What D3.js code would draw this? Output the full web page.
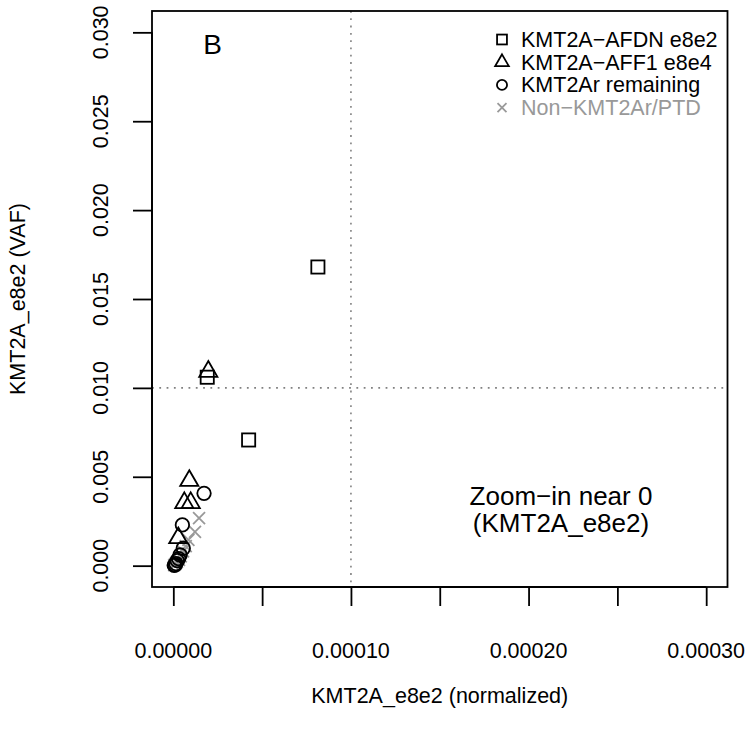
<!DOCTYPE html>
<html>
<head>
<meta charset="utf-8">
<script src="https://cdn.jsdelivr.net/npm/d3@7"></script>
<style>
  body { margin: 0; background: #fff; }
  text { font-family: "Liberation Sans", Arial, sans-serif; }
</style>
</head>
<body>
<script>
// points: [normalized, VAF]
var afdn = [ [0.0000814, 0.0168], [0.0000191, 0.0106], [0.0000424, 0.00707] ];
var aff1 = [ [0.0000197, 0.01092], [0.0000090, 0.00478], [0.0000062, 0.00353],
             [0.0000098, 0.00353], [0.0000028, 0.00156] ];
var remaining = [ [0.0000173, 0.00407], [0.0000051, 0.00229], [0.0000056, 0.00098],
                  [0.0000038, 0.00060], [0.0000030, 0.00040], [0.0000022, 0.00028],
                  [0.0000015, 0.00012], [0.0000010, 0.00005], [0.0000005, 0.00002] ];
var nonkmt = [ [0.0000145, 0.00267], [0.0000122, 0.00190], [0.0000085, 0.00145],
               [0.0000070, 0.00110], [0.0000055, 0.00080], [0.0000042, 0.00052],
               [0.0000032, 0.00032], [0.0000020, 0.00020], [0.0000012, 0.00010],
               [0.0000005, 0.00003] ];

var xTicks = [0, 0.00005, 0.0001, 0.00015, 0.0002, 0.00025, 0.0003];
var xLabels = [0, 0.0001, 0.0002, 0.0003];
var yTicks = [0, 0.005, 0.01, 0.015, 0.02, 0.025, 0.03];
var legendLabels = ["KMT2A\u2212AFDN e8e2", "KMT2A\u2212AFF1 e8e4", "KMT2Ar remaining", "Non\u2212KMT2Ar/PTD"];
var legendShapes = ["square", "triangle", "circle", "cross"];
var legendColours = ["#000", "#000", "#000", "#999"];

var W = 747, H = 738;
var box = { l: 152, r: 727.5, t: 11, b: 587 };
var GRAY = "#999999";
var LW = 1.8;

var svg = d3.select("body").append("svg")
    .attr("width", W)
    .attr("height", H);

// R style: 4% padding on both ends
var xs = d3.scaleLinear().domain([-0.000012, 0.000312]).range([box.l, box.r]);
var ys = d3.scaleLinear().domain([-0.0012, 0.0312]).range([box.b, box.t]);

// reference lines
svg.append("line")
    .attr("x1", xs(0.0001)).attr("x2", xs(0.0001))
    .attr("y1", box.t).attr("y2", box.b)
    .attr("stroke", "#808080").attr("stroke-width", 1.6)
    .attr("stroke-dasharray", "1.8,5.5");
svg.append("line")
    .attr("x1", box.l).attr("x2", box.r)
    .attr("y1", ys(0.01)).attr("y2", ys(0.01))
    .attr("stroke", "#808080").attr("stroke-width", 1.6)
    .attr("stroke-dasharray", "1.8,5.5");

// symbol drawing, R pch sizes
var S = 18;
function drawShape(g, shape, x, y, colour) {
    if (shape == "square") {
        var h = 0.375 * 0.886 * S * 1.1;
        g.append("rect")
            .attr("x", x - h).attr("y", y - h)
            .attr("width", 2 * h).attr("height", 2 * h)
            .attr("fill", "none").attr("stroke", colour).attr("stroke-width", LW);
    } else if (shape == "triangle") {
        var r = 1.555 * 0.375 * S;
        var xc = r * Math.sqrt(3) / 2;
        g.append("path")
            .attr("d", "M" + x + "," + (y - r) + "L" + (x + xc) + "," + (y + r / 2) +
                       "L" + (x - xc) + "," + (y + r / 2) + "Z")
            .attr("fill", "none").attr("stroke", colour).attr("stroke-width", LW);
    } else if (shape == "circle") {
        g.append("circle")
            .attr("cx", x).attr("cy", y).attr("r", 0.375 * S)
            .attr("fill", "none").attr("stroke", colour).attr("stroke-width", LW);
    } else {
        var c = 0.375 * 0.886 * S;
        g.append("path")
            .attr("d", "M" + (x - c) + "," + (y - c) + "L" + (x + c) + "," + (y + c) +
                       "M" + (x - c) + "," + (y + c) + "L" + (x + c) + "," + (y - c))
            .attr("fill", "none").attr("stroke", colour).attr("stroke-width", LW);
    }
}

var pts = svg.append("g");
nonkmt.forEach(function (d) { drawShape(pts, "cross", xs(d[0]), ys(d[1]), GRAY); });
afdn.forEach(function (d) { drawShape(pts, "square", xs(d[0]), ys(d[1]), "#000"); });
aff1.forEach(function (d) { drawShape(pts, "triangle", xs(d[0]), ys(d[1]), "#000"); });
remaining.forEach(function (d) { drawShape(pts, "circle", xs(d[0]), ys(d[1]), "#000"); });

// box
svg.append("rect")
    .attr("x", box.l).attr("y", box.t)
    .attr("width", box.r - box.l).attr("height", box.b - box.t)
    .attr("fill", "none").attr("stroke", "#000").attr("stroke-width", LW);

// x axis
var xAxis = svg.append("g")
    .attr("transform", "translate(0," + box.b + ")")
    .call(d3.axisBottom(xs).tickValues(xTicks).tickSize(19).tickFormat(""));
xAxis.select(".domain")
    .attr("d", "M" + xs(0) + ",0H" + xs(0.0003))
    .attr("stroke-width", LW);
xAxis.selectAll(".tick line").attr("stroke-width", LW);
svg.selectAll(".xlab").data(xLabels).enter().append("text")
    .attr("x", function (d) { return xs(d); })
    .attr("y", 658)
    .attr("text-anchor", "middle")
    .attr("font-size", 21.5)
    .text(function (d) { return d3.format(".5f")(d); });

// y axis
var yAxis = svg.append("g")
    .attr("transform", "translate(" + box.l + ",0)")
    .call(d3.axisLeft(ys).tickValues(yTicks).tickSize(19).tickFormat(""));
yAxis.select(".domain")
    .attr("d", "M0," + ys(0) + "V" + ys(0.03))
    .attr("stroke-width", LW);
yAxis.selectAll(".tick line").attr("stroke-width", LW);
svg.selectAll(".ylab").data(yTicks).enter().append("text")
    .attr("transform", function (d) { return "translate(108," + ys(d) + ") rotate(-90)"; })
    .attr("text-anchor", "middle")
    .attr("font-size", 21.5)
    .text(function (d) { return d3.format(".3f")(d); });

// axis titles
svg.append("text")
    .attr("x", (box.l + box.r) / 2).attr("y", 703)
    .attr("text-anchor", "middle").attr("font-size", 21.5)
    .text("KMT2A_e8e2 (normalized)");
svg.append("text")
    .attr("transform", "translate(25," + (box.t + box.b) / 2 + ") rotate(-90)")
    .attr("text-anchor", "middle").attr("font-size", 21.5)
    .text("KMT2A_e8e2 (VAF)");

// panel letter
svg.append("text")
    .attr("x", 212.5).attr("y", 54)
    .attr("text-anchor", "middle").attr("font-size", 28)
    .text("B");

// annotation
svg.append("text")
    .attr("x", 561).attr("y", 505)
    .attr("text-anchor", "middle").attr("font-size", 26)
    .text("Zoom\u2212in near 0");
svg.append("text")
    .attr("x", 561).attr("y", 532)
    .attr("text-anchor", "middle").attr("font-size", 26)
    .text("(KMT2A_e8e2)");

// legend
var lg = svg.append("g");
legendLabels.forEach(function (lab, i) {
    var y = 39.5 + i * 22.7;
    var s0 = S;
    S = 13.5;
    drawShape(lg, legendShapes[i], 502, y, legendColours[i]);
    S = s0;
    lg.append("text")
        .attr("x", 521).attr("y", y + 7.5)
        .attr("font-size", 21.5)
        .attr("fill", legendColours[i] == "#000" ? "#000" : GRAY)
        .text(lab);
});
</script>
</body>
</html>
